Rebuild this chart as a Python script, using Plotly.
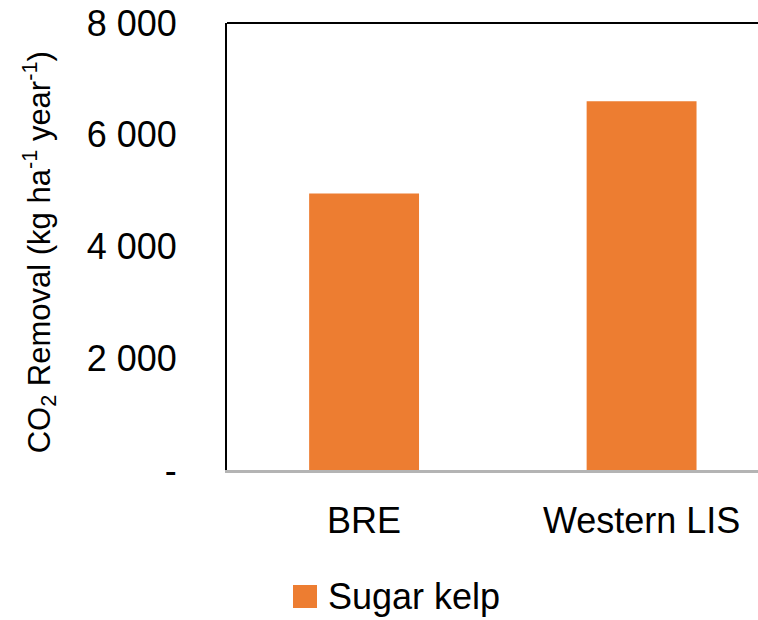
import plotly.graph_objects as go

# CO2 removal by sugar kelp at two sites
sites = ["BRE", "Western LIS"]
co2_removal = [4950, 6600]
series_name = "Sugar kelp"

y_tick_vals = [0, 2000, 4000, 6000, 8000]
y_tick_text = ["-", "2 000", "4 000", "6 000", "8 000"]

BAR_COLOR = "#ED7D31"
FONT = "Liberation Sans, Arial, sans-serif"

W, H = 758, 620
L, R, T, B = 227, 0, 23, 150

fig = go.Figure()
fig.add_trace(go.Bar(
    x=sites,
    y=co2_removal,
    name=series_name,
    marker=dict(color=BAR_COLOR, line=dict(width=0)),
    width=0.396,
    showlegend=False,
))

fig.update_layout(
    width=W,
    height=H,
    margin=dict(l=L, r=R, t=T, b=B, pad=0),
    paper_bgcolor="white",
    plot_bgcolor="white",
    font=dict(family=FONT, color="black"),
    xaxis=dict(
        type="category",
        range=[-0.494, 1.4195],
        showline=True,
        linecolor="#b4b4b4",
        linewidth=2.5,
        showgrid=False,
        ticks="",
        tickfont=dict(size=36, family=FONT, color="black"),
        ticklabelstandoff=17,
        zeroline=False,
    ),
    yaxis=dict(
        range=[0, 8000],
        tickvals=y_tick_vals,
        ticktext=y_tick_text,
        showline=True,
        linecolor="black",
        linewidth=2,
        showgrid=False,
        ticks="",
        tickfont=dict(size=36, family=FONT, color="black"),
        ticklabelstandoff=41,
        zeroline=False,
    ),
    shapes=[
        # top frame line
        dict(type="line", xref="paper", yref="paper", x0=0, x1=1, y0=1, y1=1,
             line=dict(color="black", width=2)),
        # legend swatch
        dict(type="rect", xref="paper", yref="paper",
             x0=(293 - L) / (W - L - R), x1=(317 - L) / (W - L - R),
             y0=-(585 - (H - B)) / (H - T - B), y1=-(608 - (H - B)) / (H - T - B),
             fillcolor=BAR_COLOR, line=dict(width=0)),
    ],
    annotations=[
        dict(text="CO<sub>2</sub> Removal (kg ha<sup>-1</sup> year<sup>-1</sup>)",
             xref="paper", yref="paper",
             x=(39 - L) / (W - L - R), y=0.487,
             xanchor="center", yanchor="middle",
             textangle=-90, showarrow=False,
             font=dict(size=31, family=FONT, color="black")),
        dict(text=series_name,
             xref="paper", yref="paper",
             x=(326 - L) / (W - L - R), y=-(596 - (H - B)) / (H - T - B),
             xanchor="left", yanchor="middle", showarrow=False,
             font=dict(size=36, family=FONT, color="black")),
    ],
)

fig.write_html("out.html")
